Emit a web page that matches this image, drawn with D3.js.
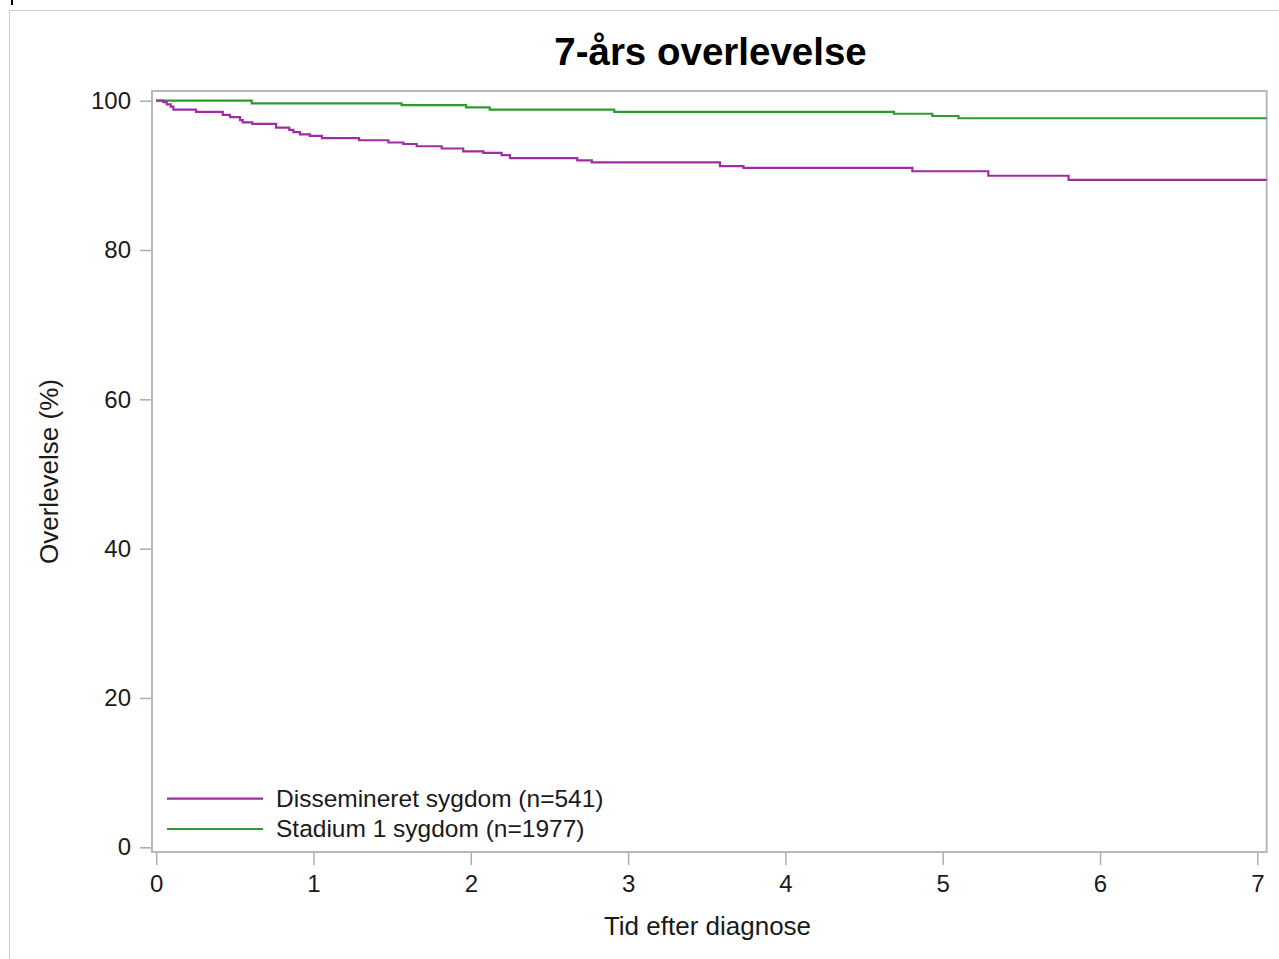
<!DOCTYPE html>
<html>
<head>
<meta charset="utf-8">
<script src="https://cdn.jsdelivr.net/npm/d3@7"></script>
<style>
  body { margin: 0; background: #fff; }
  svg { display: block; font-family: "Liberation Sans", Arial, sans-serif; }
</style>
</head>
<body>
<script>
// Kaplan-Meier steps: time (years) and survival (%) after each step
const dissTimes = [0, 0.045, 0.067, 0.092, 0.109, 0.253, 0.423, 0.469, 0.533, 0.55, 0.611, 0.762,
    0.846, 0.872, 0.914, 0.977, 1.053, 1.29, 1.476, 1.571, 1.656, 1.815, 1.952, 2.08, 2.196,
    2.249, 2.677, 2.769, 3.584, 3.733, 4.807, 5.29, 5.80, 7.06];
const dissValues = [100, 99.8, 99.5, 99.2, 98.8, 98.5, 98.1, 97.8, 97.4, 97.1, 96.9, 96.4,
    96.1, 95.8, 95.5, 95.3, 95.0, 94.7, 94.4, 94.2, 93.9, 93.6, 93.2, 93.0, 92.7,
    92.3, 92.0, 91.75, 91.25, 91.0, 90.55, 89.95, 89.4, 89.4];

const stadTimes = [0, 0.607, 1.56, 1.97, 2.12, 2.912, 4.69, 4.934, 5.10, 7.06];
const stadValues = [100, 99.65, 99.4, 99.1, 98.8, 98.5, 98.25, 97.95, 97.65, 97.65];

const seriesNames = ["Dissemineret sygdom (n=541)", "Stadium 1 sygdom (n=1977)"];
const seriesColors = ["#a02ca4", "#2e9a2e"];
const xTicks = [0, 1, 2, 3, 4, 5, 6, 7];
const yTicks = [0, 20, 40, 60, 80, 100];

const w = 1279;
const h = 959;

const xScale = d3.scaleLinear().domain([0, 7]).range([156.2, 1257.3]);
const yScale = d3.scaleLinear().domain([0, 100]).range([847.3, 100.7]);

// plot frame edges
const plotLeft = 152, plotRight = 1266.7, plotTop = 91, plotBottom = 852;

const svg = d3.select("body")
    .append("svg")
    .attr("width", w)
    .attr("height", h);

// outer border of the graph image
svg.append("rect")
    .attr("x", 9.5).attr("y", 10.5)
    .attr("width", 1300).attr("height", 1000)
    .attr("fill", "none")
    .attr("stroke", "#d0d0d0");

svg.append("line")
    .attr("x1", 12).attr("x2", 12)
    .attr("y1", 0).attr("y2", 5)
    .attr("stroke", "#000")
    .attr("stroke-width", 2);

// title
svg.append("text")
    .attr("x", 710.5).attr("y", 65)
    .attr("text-anchor", "middle")
    .style("font-size", "38.5px")
    .style("font-weight", "bold")
    .attr("fill", "#000")
    .text("7-års overlevelse");

// axes
const xAxis = d3.axisBottom(xScale)
    .tickValues(xTicks)
    .tickSize(13)
    .tickSizeOuter(0)
    .tickPadding(10)
    .tickFormat(d3.format("d"));

const yAxis = d3.axisLeft(yScale)
    .tickValues(yTicks)
    .tickSize(12)
    .tickSizeOuter(0)
    .tickPadding(9)
    .tickFormat(d3.format("d"));

const gx = svg.append("g")
    .attr("transform", "translate(0," + plotBottom + ")")
    .call(xAxis);

const gy = svg.append("g")
    .attr("transform", "translate(" + plotLeft + ",0)")
    .call(yAxis);

[gx, gy].forEach(g => {
    g.select(".domain").remove();
    g.selectAll(".tick line").attr("stroke", "#a9adb2").attr("stroke-width", 1.5);
    g.selectAll(".tick text")
        .attr("fill", "#1a1a1a")
        .style("font-size", "24px")
        .style("font-family", "'Liberation Sans', Arial, sans-serif");
});

// frame
svg.append("rect")
    .attr("x", plotLeft).attr("y", plotTop)
    .attr("width", plotRight - plotLeft).attr("height", plotBottom - plotTop)
    .attr("fill", "none")
    .attr("stroke", "#b5b9bd")
    .attr("stroke-width", 2);

// axis labels
svg.append("text")
    .attr("x", 707.5).attr("y", 935)
    .attr("text-anchor", "middle")
    .style("font-size", "26px")
    .attr("fill", "#1a1a1a")
    .text("Tid efter diagnose");

svg.append("text")
    .attr("transform", "translate(58,471.5) rotate(-90)")
    .attr("text-anchor", "middle")
    .style("font-size", "26px")
    .attr("fill", "#1a1a1a")
    .text("Overlevelse (%)");

// curves
const line = d3.line()
    .x(d => xScale(d[0]))
    .y(d => yScale(d[1]))
    .curve(d3.curveStepAfter);

const series = [
    d3.zip(dissTimes, dissValues),
    d3.zip(stadTimes, stadValues)
];

// green drawn first so purple sits on top at the start
[1, 0].forEach(i => {
    svg.append("path")
        .datum(series[i])
        .attr("d", line)
        .attr("fill", "none")
        .attr("stroke", seriesColors[i])
        .attr("stroke-width", 2.2);
});

// legend
const legend = svg.append("g");
seriesNames.forEach((name, i) => {
    const ly = 798.7 + i * 30.3;
    legend.append("line")
        .attr("x1", 167).attr("x2", 263)
        .attr("y1", ly).attr("y2", ly)
        .attr("stroke", seriesColors[i])
        .attr("stroke-width", 2.2);
    legend.append("text")
        .attr("x", 276).attr("y", ly + 8)
        .style("font-size", "24.5px")
        .attr("fill", "#1a1a1a")
        .text(name);
});
</script>
</body>
</html>
